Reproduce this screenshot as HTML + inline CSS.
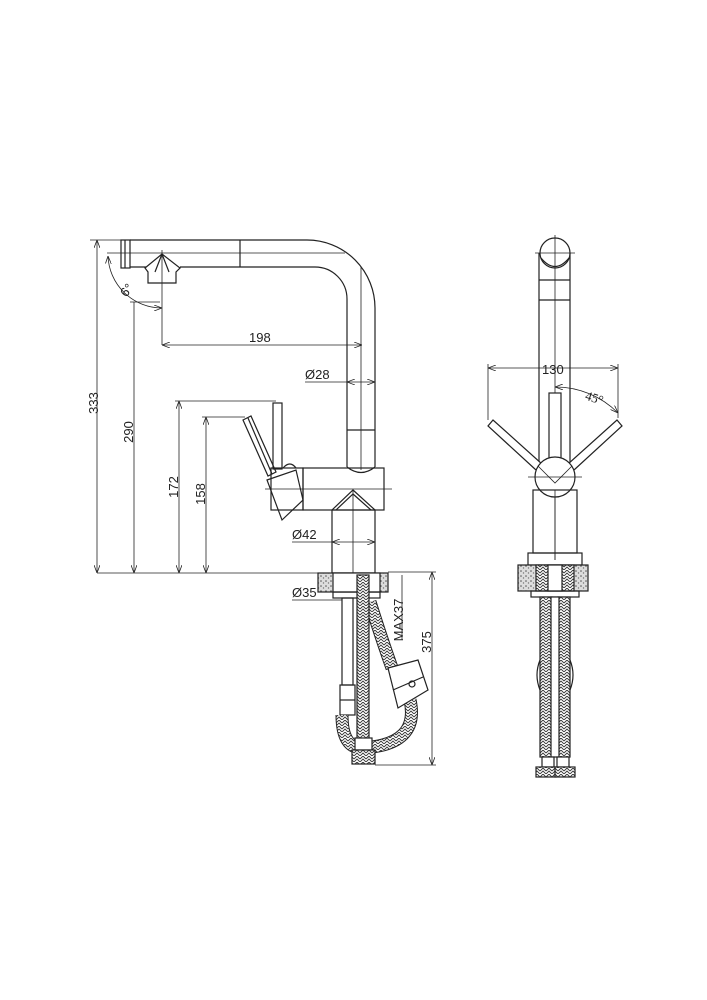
<!DOCTYPE html>
<html><head><meta charset="utf-8"><style>
html,body{margin:0;padding:0;background:#fff;}
svg{display:block;}
text{font-family:"Liberation Sans",sans-serif;font-size:13px;fill:#222;}
</style></head><body>
<svg width="707" height="1000" viewBox="0 0 707 1000" xmlns="http://www.w3.org/2000/svg">
<defs>
<pattern id="hatch" width="6" height="6" patternUnits="userSpaceOnUse">
<rect width="6" height="6" fill="#fff"/>
<path d="M0 3 L3 0 L6 3 M0 6 L3 3 L6 6" stroke="#333" stroke-width="0.9" fill="none"/>
</pattern>
<pattern id="speck" width="5" height="5" patternUnits="userSpaceOnUse">
<rect width="5" height="5" fill="#ddd"/>
<circle cx="1" cy="1" r="0.8" fill="#555"/><circle cx="3.5" cy="3" r="0.7" fill="#777"/>
</pattern>
<marker id="a" markerWidth="8" markerHeight="6" refX="8" refY="3" orient="auto-start-reverse" markerUnits="userSpaceOnUse">
<path d="M0 0 L8 3 L0 6" fill="none" stroke="#222" stroke-width="0.8"/></marker>
</defs>
<g stroke="#222" stroke-width="1.2" fill="none">
<!-- LEFT VIEW spout -->
<path d="M130 240 H307 A68 68 0 0 1 375 308 V467"/>
<path d="M180 267 H315 A32 32 0 0 1 347 299 V467"/>
<line x1="240" y1="240" x2="240" y2="267"/>
<line x1="347" y1="430" x2="375" y2="430"/>
<rect x="121" y="240" width="9" height="28"/>
<line x1="125" y1="240" x2="125" y2="268"/>
<path d="M130 267 H146 M162 254 L145 268 L148 272 V283 H176 V272 L180 268 Z M162 254 L155 272 M162 254 L169 272"/>
<line x1="180" y1="267" x2="180" y2="268"/>
<!-- center lines -->
<line x1="107" y1="253" x2="345" y2="253" stroke-width="0.8"/>
<line x1="162" y1="250" x2="162" y2="345" stroke-width="0.8"/>
<line x1="361" y1="267" x2="361" y2="470" stroke-width="0.8"/>
<path d="M108 256 A54 54 0 0 0 162 308" stroke-width="0.8" marker-start="url(#a)" marker-end="url(#a)"/>
<!-- body -->
<rect x="303" y="468" width="81" height="42"/>
<path d="M347 467 Q361 478 375 467" />
<line x1="265" y1="489" x2="392" y2="489" stroke-width="0.8"/>
<path d="M332 510 L353 490 L375 510"/>
<path d="M336 510 L353 494 L371 510"/>
<rect x="332" y="510" width="43" height="63"/>
<line x1="353" y1="490" x2="353" y2="573" stroke-width="0.8"/>
<!-- cartridge / lever -->
<rect x="271" y="468" width="32" height="42"/>
<rect x="273" y="403" width="9" height="66"/>
<path d="M267 480 L296 470 L303 500 L282 520 Z"/>
<path d="M243 420 L251 416 L276 472 L268 476 Z"/>
<line x1="248" y1="418" x2="272" y2="474"/>
<path d="M283 468 Q290 460 296 468"/>
<!-- dims left -->
<g stroke-width="0.8">
<line x1="90" y1="240" x2="121" y2="240"/>
<line x1="97" y1="240" x2="97" y2="573" marker-start="url(#a)" marker-end="url(#a)"/>
<line x1="134" y1="302" x2="134" y2="573" marker-end="url(#a)"/>
<line x1="130" y1="302" x2="160" y2="302"/>
<line x1="162" y1="345" x2="362" y2="345" marker-start="url(#a)" marker-end="url(#a)"/>
<line x1="305" y1="382" x2="347" y2="382"/>
<line x1="347" y1="382" x2="375" y2="382" marker-start="url(#a)" marker-end="url(#a)"/>
<line x1="175" y1="401" x2="276" y2="401"/>
<line x1="179" y1="401" x2="179" y2="573" marker-start="url(#a)" marker-end="url(#a)"/>
<line x1="202" y1="417" x2="245" y2="417"/>
<line x1="206" y1="417" x2="206" y2="573" marker-start="url(#a)" marker-end="url(#a)"/>
<line x1="292" y1="542" x2="332" y2="542"/>
<line x1="332" y1="542" x2="375" y2="542" marker-start="url(#a)" marker-end="url(#a)"/>
<line x1="97" y1="573" x2="318" y2="573"/>
<line x1="292" y1="600" x2="342" y2="600"/>
<line x1="388" y1="572" x2="436" y2="572"/>
<line x1="375" y1="765" x2="436" y2="765"/>
<line x1="432" y1="572" x2="432" y2="765" marker-start="url(#a)" marker-end="url(#a)"/>
<line x1="402" y1="575" x2="402" y2="640"/>
</g>
<!-- counter & under-sink left -->
<rect x="318" y="573" width="70" height="19" fill="url(#speck)"/>
<rect x="333" y="573" width="47" height="19" fill="#fff"/>
<rect x="333" y="592" width="47" height="6"/>
<rect x="342" y="598" width="11" height="87"/>
<rect x="340" y="685" width="15" height="30"/>
<line x1="340" y1="700" x2="355" y2="700"/>
<path d="M370 602 Q382 640 392 668" stroke="#222" stroke-width="13"/>
<path d="M370 602 Q382 640 392 668" stroke="url(#hatch)" stroke-width="11"/>
<path d="M410 700 Q420 745 362 748 M342 715 Q342 748 362 748" stroke="#222" stroke-width="13"/>
<path d="M410 700 Q420 745 362 748 M342 715 Q342 748 362 748" stroke="url(#hatch)" stroke-width="11"/>
<rect x="357" y="575" width="12" height="165" fill="url(#hatch)"/>
<path d="M388 668 L418 660 L428 690 L398 708 Z" fill="#fff"/>
<line x1="393" y1="690" x2="423" y2="677"/>
<circle cx="412" cy="684" r="3"/>
<rect x="355" y="738" width="17" height="12" fill="#fff"/>
<rect x="352" y="750" width="23" height="14" fill="url(#hatch)"/>
<!-- RIGHT VIEW -->
<circle cx="555" cy="253" r="15"/>
<path d="M541 258 Q555 275 569 258"/>
<line x1="539" y1="253" x2="539" y2="462"/>
<line x1="570" y1="253" x2="570" y2="462"/>
<line x1="539" y1="280" x2="570" y2="280"/>
<line x1="539" y1="300" x2="570" y2="300"/>
<line x1="555" y1="235" x2="555" y2="560" stroke-width="0.8"/>
<line x1="535" y1="253" x2="575" y2="253" stroke-width="0.8"/>
<rect x="549" y="393" width="12" height="70" fill="#fff"/>
<path d="M493 420 L488 426 L536 470 L542 464 Z" fill="#fff"/>
<path d="M617 420 L622 426 L574 470 L568 464 Z" fill="#fff"/>
<circle cx="555" cy="477" r="20" fill="#fff"/>
<path d="M538 466 L555 483 L572 466" stroke-width="0.8"/>
<line x1="528" y1="477" x2="582" y2="477" stroke-width="0.8"/>
<rect x="533" y="490" width="44" height="63"/>
<line x1="555" y1="490" x2="555" y2="560" stroke-width="0.8"/>
<rect x="528" y="553" width="54" height="12"/>
<rect x="518" y="565" width="70" height="26" fill="url(#speck)"/>
<rect x="536" y="565" width="38" height="26" fill="url(#hatch)"/>
<rect x="548" y="565" width="14" height="26" fill="#fff"/>
<rect x="531" y="591" width="48" height="6"/>
<rect x="540" y="597" width="12" height="160" fill="url(#hatch)"/>
<rect x="558" y="597" width="12" height="160" fill="url(#hatch)"/>
<rect x="551" y="597" width="8" height="160" fill="#fff"/>
<path d="M540 660 Q534 675 540 690 M570 660 Q576 675 570 690"/>
<rect x="542" y="757" width="12" height="10" fill="#fff"/>
<rect x="557" y="757" width="12" height="10" fill="#fff"/>
<rect x="536" y="767" width="20" height="10" fill="url(#hatch)"/>
<rect x="555" y="767" width="20" height="10" fill="url(#hatch)"/>
<g stroke-width="0.8">
<line x1="488" y1="368" x2="618" y2="368" marker-start="url(#a)" marker-end="url(#a)"/>
<line x1="488" y1="364" x2="488" y2="420"/>
<line x1="618" y1="364" x2="618" y2="418"/>
<path d="M555 387 A88 88 0 0 1 618 413" marker-start="url(#a)" marker-end="url(#a)"/>
</g>
</g>
<g>
<text x="0" y="0" transform="translate(98,403) rotate(-90)" text-anchor="middle">333</text>
<text x="0" y="0" transform="translate(133,432) rotate(-90)" text-anchor="middle">290</text>
<text x="0" y="0" transform="translate(178,487) rotate(-90)" text-anchor="middle">172</text>
<text x="0" y="0" transform="translate(205,494) rotate(-90)" text-anchor="middle">158</text>
<text x="0" y="0" transform="translate(431,642) rotate(-90)" text-anchor="middle">375</text>
<text x="0" y="0" transform="translate(403,620) rotate(-90)" text-anchor="middle">MAX37</text>
<text x="0" y="0" transform="translate(130,293) rotate(-50)" text-anchor="middle" font-size="11">6°</text>
<text x="249" y="342">198</text>
<text x="305" y="379">Ø28</text>
<text x="292" y="539">Ø42</text>
<text x="292" y="597">Ø35</text>
<text x="542" y="374">130</text>
<text x="0" y="0" transform="translate(593,402) rotate(18)" text-anchor="middle" font-family="Liberation Serif" style="font-family:'Liberation Serif',serif">45°</text>
</g>
</svg>
</body></html>
